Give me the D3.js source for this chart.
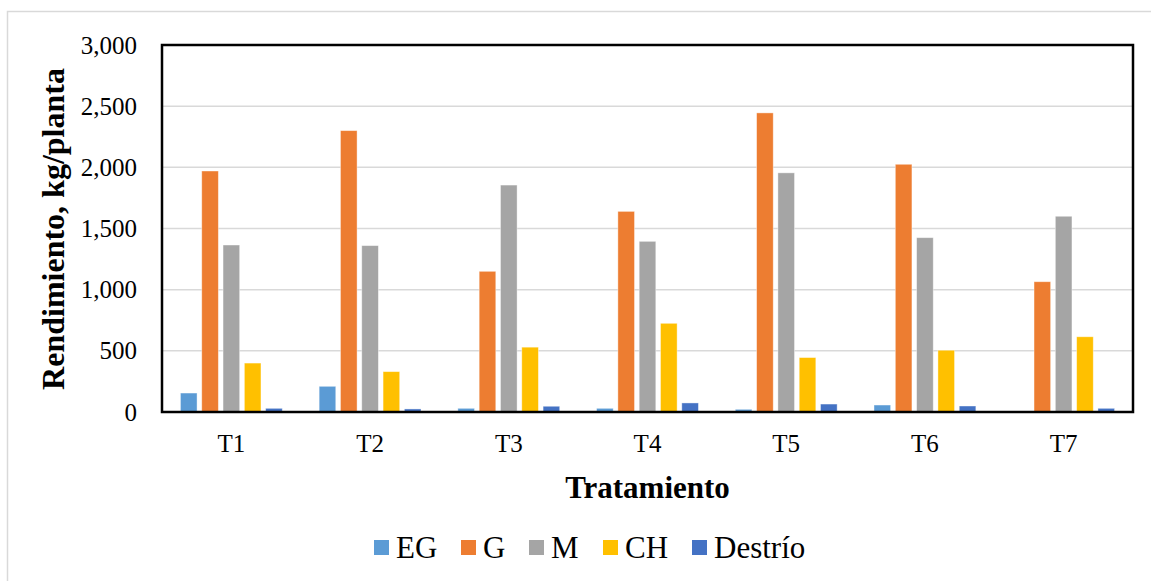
<!DOCTYPE html>
<html>
<head>
<meta charset="utf-8">
<script src="https://cdn.jsdelivr.net/npm/d3@7"></script>
<style>
  html, body { margin: 0; padding: 0; background: #fff; }
  svg { display: block; font-family: "Liberation Serif", "Times New Roman", serif; }
</style>
</head>
<body>
<svg id="chart" width="1151" height="581"></svg>
<script>
// Yield per plant by treatment and fruit grade
const categories = ["T1", "T2", "T3", "T4", "T5", "T6", "T7"];
const seriesNames = ["EG", "G", "M", "CH", "Destrío"];
const valuesEG      = [155, 210, 30, 30, 22, 57, 0];
const valuesG       = [1970, 2300, 1150, 1640, 2445, 2025, 1065];
const valuesM       = [1365, 1360, 1855, 1395, 1955, 1425, 1600];
const valuesCH      = [400, 330, 530, 725, 445, 505, 615];
const valuesDestrio = [30, 25, 47, 74, 65, 49, 30];
const seriesColors  = ["#5B9BD5", "#ED7D31", "#A5A5A5", "#FFC000", "#4472C4"];
const yTicks = [0, 500, 1000, 1500, 2000, 2500, 3000];

const seriesValues = [valuesEG, valuesG, valuesM, valuesCH, valuesDestrio];
const rows = categories.map((c, i) => {
  const r = { cat: c };
  seriesNames.forEach((s, j) => r[s] = seriesValues[j][i]);
  return r;
});

const svg = d3.select("#chart");
const plot = { left: 162, top: 45, right: 1133, bottom: 412 };

// chart frame
svg.append("rect")
  .attr("x", 7.5).attr("y", 11.5)
  .attr("width", 1160).attr("height", 600)
  .attr("fill", "#fff").attr("stroke", "#d9d9d9").attr("stroke-width", 1.5);

const x0 = d3.scaleBand().domain(categories)
  .range([plot.left, plot.right]).paddingInner(0.232).paddingOuter(0.116);
const x1 = d3.scaleBand().domain(seriesNames)
  .range([0, x0.bandwidth()]).paddingInner(0.22).paddingOuter(0.11);
const y = d3.scaleLinear().domain([0, 3000]).range([plot.bottom, plot.top]);

// gridlines
svg.append("g").selectAll("line")
  .data(yTicks.filter(t => t > 0 && t < 3000))
  .join("line")
  .attr("x1", plot.left).attr("x2", plot.right)
  .attr("y1", d => y(d)).attr("y2", d => y(d))
  .attr("stroke", "#d9d9d9").attr("stroke-width", 1.5);

// bars
const groups = svg.append("g").selectAll("g")
  .data(rows).join("g")
  .attr("transform", d => `translate(${x0(d.cat)},0)`);
groups.selectAll("rect")
  .data(d => seriesNames.map((s, j) => ({ s, j, v: d[s] })))
  .join("rect")
  .attr("x", d => x1(d.s))
  .attr("width", x1.bandwidth())
  .attr("y", d => y(d.v))
  .attr("height", d => y(0) - y(d.v))
  .attr("fill", d => seriesColors[d.j])
  .attr("stroke", d => d.v > 0 ? "rgba(255,255,255,0.5)" : "none")
  .attr("stroke-width", 0.8);

// plot border
svg.append("rect")
  .attr("x", plot.left).attr("y", plot.top)
  .attr("width", plot.right - plot.left).attr("height", plot.bottom - plot.top)
  .attr("fill", "none").attr("stroke", "#000").attr("stroke-width", 2.5);

// y axis labels
const yAxis = d3.axisLeft(y).tickValues(yTicks)
  .tickFormat(d3.format(",")).tickSize(0).tickPadding(25);
const gy = svg.append("g").attr("transform", `translate(${plot.left},0)`).call(yAxis);
gy.select(".domain").remove();
gy.selectAll("text").attr("font-size", 25).attr("fill", "#000")
  .attr("font-family", "Liberation Serif, Times New Roman, serif");

// x axis labels
const xAxis = d3.axisBottom(x0).tickSize(0).tickPadding(22);
const gx = svg.append("g").attr("transform", `translate(0,${plot.bottom})`).call(xAxis);
gx.select(".domain").remove();
gx.selectAll("text").attr("font-size", 25).attr("fill", "#000")
  .attr("font-family", "Liberation Serif, Times New Roman, serif");

// axis titles
svg.append("text")
  .attr("x", (plot.left + plot.right) / 2).attr("y", 498)
  .attr("text-anchor", "middle").attr("font-size", 31).attr("font-weight", "bold")
  .text("Tratamiento");
svg.append("text")
  .attr("transform", `translate(64,229) rotate(-90)`)
  .attr("text-anchor", "middle").attr("font-size", 32).attr("font-weight", "bold")
  .text("Rendimiento, kg/planta");

// legend
const legendX = [374, 461, 529, 603, 692];
const legend = svg.append("g").selectAll("g")
  .data(seriesNames).join("g")
  .attr("transform", (d, i) => `translate(${legendX[i]},548)`);
legend.append("rect")
  .attr("x", 0).attr("y", -8).attr("width", 15).attr("height", 15)
  .attr("fill", (d, i) => seriesColors[i]);
legend.append("text")
  .attr("x", 22).attr("y", 10)
  .attr("font-size", 31).attr("fill", "#000")
  .text(d => d);
</script>
</body>
</html>
